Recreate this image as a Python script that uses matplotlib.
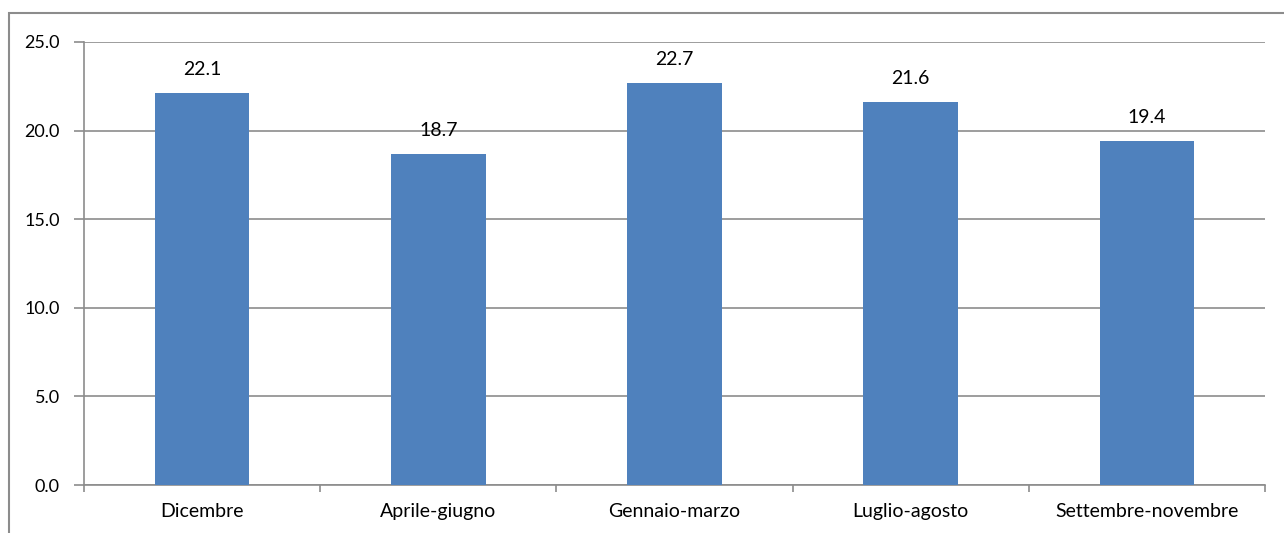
import matplotlib
matplotlib.use("Agg")
import matplotlib.pyplot as plt
from matplotlib.patches import Rectangle
import numpy as np

categories = ["Dicembre", "Aprile-giugno", "Gennaio-marzo", "Luglio-agosto", "Settembre-novembre"]
values = [22.1, 18.7, 22.7, 21.6, 19.4]
yticks = [0.0, 5.0, 10.0, 15.0, 20.0, 25.0]

plt.rcParams['font.family'] = ['Lato', 'DejaVu Sans']

W, H = 1284, 533
fig = plt.figure(figsize=(W/100, H/100), dpi=100)
ax = fig.add_axes([84/W, 1-485/H, (1265-84)/W, (485-42)/H])

x = np.arange(len(categories))
bars = ax.bar(x, values, width=0.4, color="#4F81BD", zorder=3)
ax.set_xlim(-0.5, len(categories)-0.5)
ax.set_ylim(0, 25)
ax.set_yticks(yticks)
ax.set_yticklabels([f"{v:.1f}" for v in yticks], fontsize=13)
ax.yaxis.grid(True, color="#8C8C8C", linewidth=1.2, zorder=0)
ax.set_axisbelow(True)

ax.set_xticks(x)
ax.set_xticklabels(categories, fontsize=14)
ax.tick_params(axis='x', length=0, pad=13)
ax.set_xticks(np.arange(len(categories)+1)-0.5, minor=True)
ax.tick_params(axis='x', which='minor', length=5, color="#8C8C8C", width=1.2, direction='out')
ax.tick_params(axis='y', length=7, color="#8C8C8C", width=1.2, pad=10.5)

for s in ["top", "right"]:
    ax.spines[s].set_visible(False)
for s in ["left", "bottom"]:
    ax.spines[s].set_color("#8C8C8C")
    ax.spines[s].set_linewidth(1.2)

for xi, v in zip(x, values):
    ax.annotate(f"{v:.1f}", (xi, v), xytext=(0, 17), textcoords="offset points",
                ha="center", va="center", fontsize=14)

fig.patches.append(Rectangle((9/W, -0.1), 1.2, 1-13/H+0.1, transform=fig.transFigure,
                             fill=False, edgecolor="#8C8C8C", linewidth=1.5))

fig.savefig("out.png", dpi=100)
